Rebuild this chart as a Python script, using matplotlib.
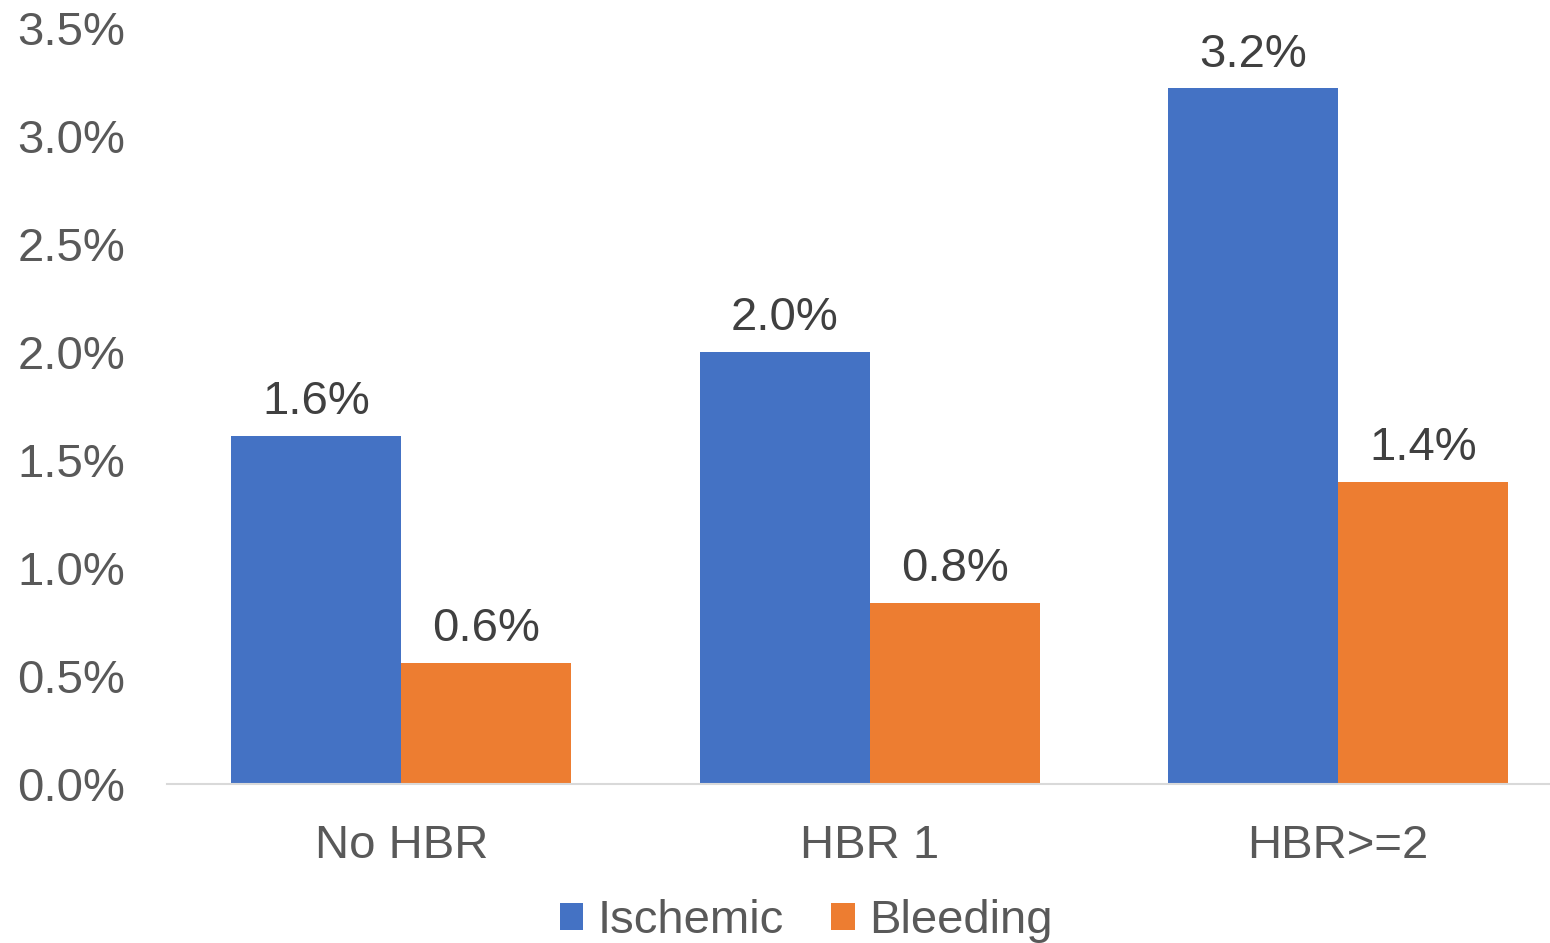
import matplotlib.pyplot as plt
import numpy as np

plt.rcParams['font.family'] = ['Liberation Sans', 'DejaVu Sans']

categories = ['No HBR', 'HBR 1', 'HBR>=2']
ischemic = [1.61, 2.00, 3.22]
bleeding = [0.56, 0.84, 1.40]
yticks = [0.0, 0.5, 1.0, 1.5, 2.0, 2.5, 3.0, 3.5]

blue = '#4472C4'
orange = '#ED7D31'
txt = '#595959'

fig = plt.figure(figsize=(15.5, 9.43), dpi=100)
ax = fig.add_axes([167 / 1550, (943 - 784) / 943, 1 - 167 / 1550, (784 - 28) / 943])

x = np.arange(len(categories))
w = 0.363
b1 = ax.bar(x - w / 2, ischemic, w, color=blue, label='Ischemic')
b2 = ax.bar(x + w / 2, bleeding, w, color=orange, label='Bleeding')

for bars, vals in [(b1, ischemic), (b2, bleeding)]:
    for r, v in zip(bars, vals):
        ax.text(r.get_x() + r.get_width() / 2, v + 0.055, f'{v:.1f}%',
                ha='center', va='bottom', fontsize=34, color='#404040')

ax.set_xlim(-0.5, 2.452)
ax.set_ylim(0, 3.5)
ax.set_yticks(yticks)
ax.set_yticklabels([f'{t:.1f}%' for t in yticks])
ax.set_xticks(x)
ax.set_xticklabels(categories)
ax.tick_params(axis='both', length=0, labelsize=34, labelcolor=txt)
ax.tick_params(axis='y', pad=30)
ax.tick_params(axis='x', pad=29)

for s in ['top', 'right', 'left']:
    ax.spines[s].set_visible(False)
ax.spines['bottom'].set_color('#D9D9D9')
ax.spines['bottom'].set_linewidth(1.5)

leg = fig.legend(loc='center', bbox_to_anchor=(806 / 1550, (943 - 921) / 943),
                 ncol=2, frameon=False, fontsize=34, handlelength=0.5,
                 handleheight=0.5, handletextpad=0.3, columnspacing=1.0,
                 labelcolor=txt)

fig.savefig('out.png', dpi=100)
